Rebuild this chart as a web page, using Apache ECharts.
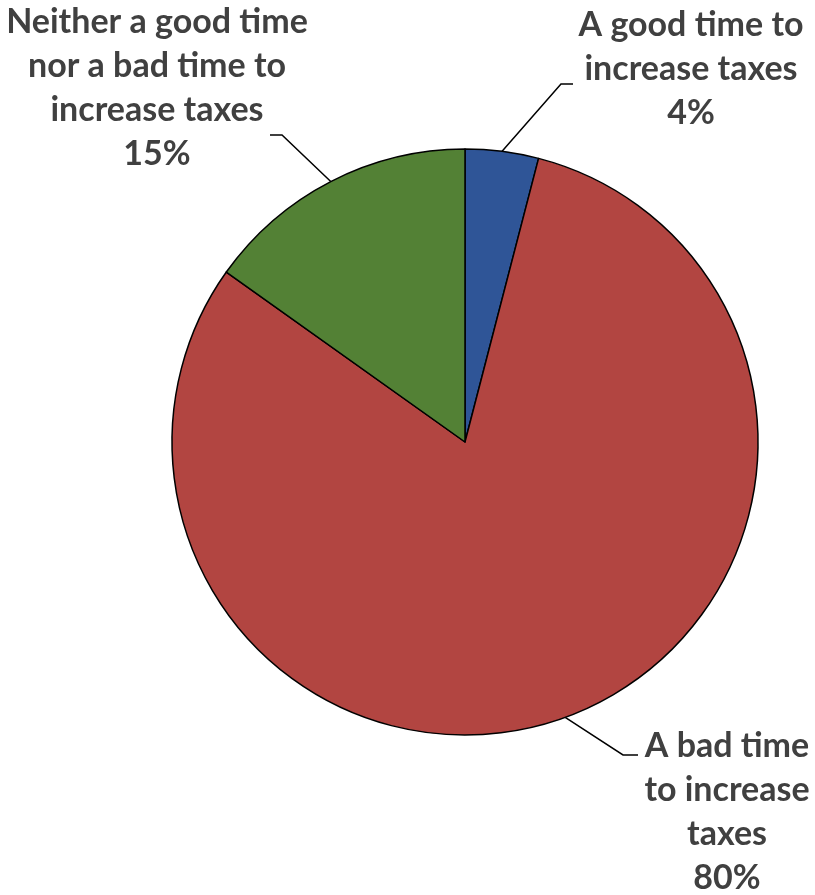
<!DOCTYPE html>
<html>
<head>
<meta charset="utf-8">
<script src="https://cdn.jsdelivr.net/npm/echarts@6/dist/echarts.min.js"></script>
<style>
  html, body { margin: 0; padding: 0; background: #ffffff; }
  #chart { width: 815px; height: 895px; }
</style>
</head>
<body>
<div id="chart"></div>
<script>
// Categories (line breaks as shown in the chart)
const categories = [
  'A good time to\nincrease taxes',
  'A bad time\nto increase\ntaxes',
  'Neither a good time\nnor a bad time to\nincrease taxes'
];
// Values (percent)
const values = [4, 80, 15];
const colors = ['#2F5597', '#B24541', '#538135'];

// Label placement (label centre, label-line bend and end points)
const labelPlacement = [
  { x: 691, y: 69,  bend: [561, 84],  end: [573, 84] },
  { x: 727, y: 812, bend: [623, 755], end: [638, 755] },
  { x: 157, y: 88,  bend: [282, 135], end: [270, 135] }
];

const chart = echarts.init(document.getElementById('chart'), null, { renderer: 'canvas' });

chart.setOption({
  animation: false,
  backgroundColor: '#ffffff',
  series: [{
    type: 'pie',
    center: [465, 442],
    radius: 293,
    startAngle: 90,
    clockwise: true,
    avoidLabelOverlap: false,
    data: categories.map((name, i) => ({
      name: name,
      value: values[i],
      itemStyle: { color: colors[i] }
    })),
    itemStyle: { borderColor: '#000000', borderWidth: 1.5 },
    label: {
      show: true,
      formatter: (p) => p.name + '\n' + p.value + '%',
      fontFamily: 'Lato',
      fontWeight: 'bold',
      fontSize: 34,
      lineHeight: 44,
      color: '#404040',
      align: 'center'
    },
    labelLine: {
      show: true,
      length: 20,
      length2: 10,
      lineStyle: { color: '#000000', width: 1.5 }
    },
    labelLayout: (params) => {
      const pl = labelPlacement[params.dataIndex];
      const start = params.labelLinePoints ? params.labelLinePoints[0] : pl.bend;
      return {
        x: pl.x,
        y: pl.y,
        align: 'center',
        verticalAlign: 'middle',
        labelLinePoints: [start, pl.bend, pl.end]
      };
    },
    emphasis: { disabled: true }
  }]
});
</script>
</body>
</html>
